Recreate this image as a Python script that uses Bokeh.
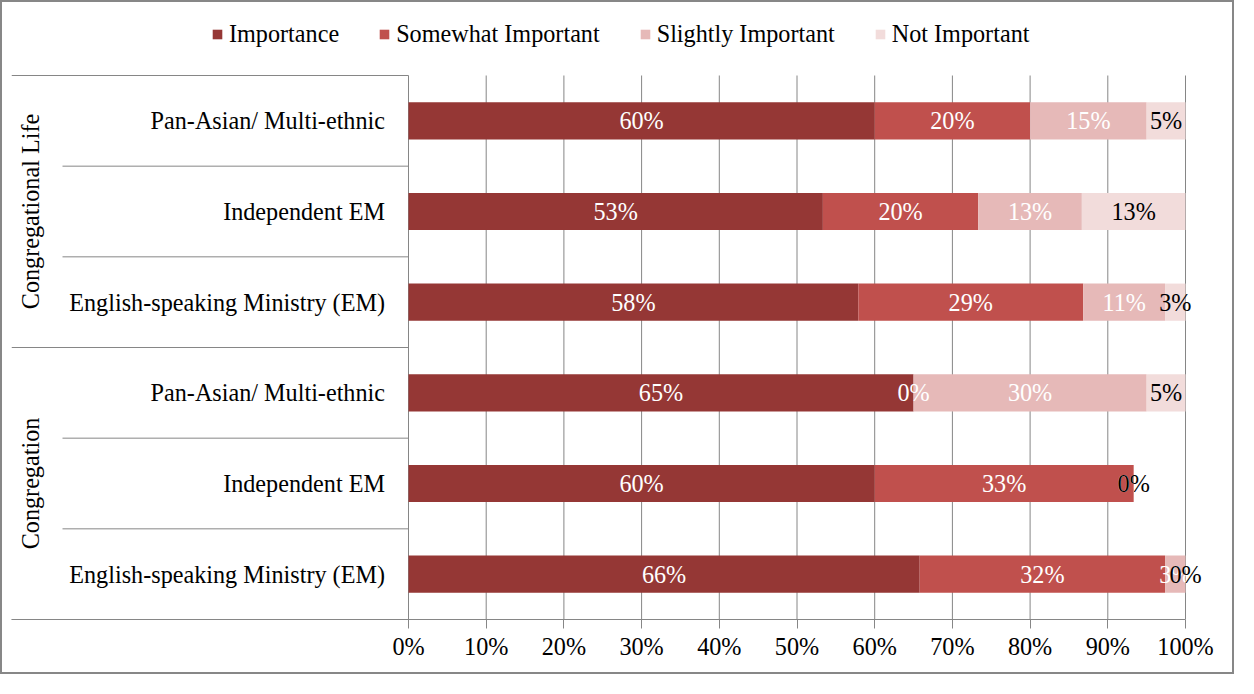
from bokeh.plotting import figure
from bokeh.models import (ColumnDataSource, Range1d, FixedTicker, NumeralTickFormatter,
                          Legend, LegendItem)
from bokeh.core.properties import value
from bokeh.embed import file_html
from bokeh.resources import INLINE

# ---------------- data ----------------
groups = ["Congregational Life", "Congregation"]
categories = ["Pan-Asian/ Multi-ethnic", "Independent EM", "English-speaking Ministry (EM)",
              "Pan-Asian/ Multi-ethnic", "Independent EM", "English-speaking Ministry (EM)"]
series = ["Importance", "Somewhat Important", "Slightly Important", "Not Important"]
importance = [0.6000, 0.5333, 0.5789, 0.6500, 0.6000, 0.6579]
somewhat = [0.2000, 0.2000, 0.2895, 0.0000, 0.3333, 0.3158]
slightly = [0.1500, 0.1333, 0.1053, 0.3000, 0.0000, 0.0263]
not_important = [0.0500, 0.1333, 0.0263, 0.0500, 0.0000, 0.0000]
x_ticks = [0.0, 0.1, 0.2, 0.3, 0.4, 0.5, 0.6, 0.7, 0.8, 0.9, 1.0]

# ---------------- style ----------------
colors = ["#953735", "#C0504D", "#E6B9B8", "#F2DCDB"]
label_colors = ["white", "white", "white", "black"]
GRAY = "#868686"
FONT = "Liberation Serif"
FS = "24.2px"

W, H = 1234, 674          # inner size; a 2px CSS border is added around it
FRAME_LEFT, FRAME_RIGHT = 9, 1230
ZERO_X, PX = 406.0, 777.0  # pixel of 0 % and pixels per 100 %
ROWS_TOP, FRAME_BOTTOM = 73, 617
ROW = (FRAME_BOTTOM - ROWS_TOP) / 6.0

X_LEFT = (FRAME_LEFT - ZERO_X) / PX
X_END = (FRAME_RIGHT - ZERO_X) / PX
X_SUB = (60.0 - ZERO_X) / PX      # start of the inner separators
X_CAT = (382.5 - ZERO_X) / PX     # right edge of category labels
X_GRP = (27.6 - ZERO_X) / PX      # centre of the rotated group labels

n = len(categories)
ys = [n - 0.5 - i for i in range(n)]
vals = [importance, somewhat, slightly, not_important]
keys = ["importance", "somewhat", "slightly", "not_important"]

src = ColumnDataSource(dict(y=ys, importance=importance, somewhat=somewhat,
                            slightly=slightly, not_important=not_important))

p = figure(width=W, height=H, output_backend="svg", toolbar_location=None,
           x_range=Range1d(X_LEFT, X_END), y_range=Range1d(0, FRAME_BOTTOM / ROW),
           y_axis_location=None, min_border_left=FRAME_LEFT,
           min_border_right=W - FRAME_RIGHT, min_border_top=0,
           min_border_bottom=H - FRAME_BOTTOM)
p.outline_line_color = None
p.background_fill_color = "white"
p.border_fill_color = "white"
p.styles = {"border": "2px solid #878787"}

# gridlines (only over the rows)
p.segment(x0=x_ticks, y0=[0] * len(x_ticks), x1=x_ticks, y1=[n] * len(x_ticks),
          line_color=GRAY, line_width=1)

rends = p.hbar_stack(keys, y="y", height=0.41, fill_color=colors, line_color=None,
                     source=src)

# data labels
lx, ly, lt, lc = [], [], [], []
for j, v in enumerate(vals):
    for i in range(n):
        left = sum(vals[k][i] for k in range(j))
        lx.append(left + v[i] / 2)
        ly.append(ys[i])
        lt.append(f"{int(v[i] * 100 + 0.5)}%")
        lc.append(label_colors[j])
p.text(x="x", y="y", text="t", text_color="c",
       source=ColumnDataSource(dict(x=lx, y=ly, t=lt, c=lc)),
       text_font=value(FONT), text_font_size=value(FS),
       text_align="center", text_baseline="middle")

# category labels
p.text(x=[X_CAT] * n, y=ys, text=categories, text_font=value(FONT),
       text_font_size=value(FS), text_align="right", text_baseline="middle",
       text_color="black")

# group labels (rotated)
per = n // len(groups)
gy = [n - per * g - per / 2 for g in range(len(groups))]
p.text(x=[X_GRP] * len(groups), y=gy, text=groups, angle=1.5708,
       text_font=value(FONT), text_font_size=value(FS), text_align="center",
       text_baseline="middle", text_color="black")

# separators in category area
sx0, sy = [], []
for b in range(0, n + 1):
    sx0.append(X_LEFT if b % per == 0 else X_SUB)
    sy.append(b)
p.segment(x0=sx0, y0=sy, x1=[0] * len(sy), y1=sy, line_color=GRAY, line_width=1)

# axis
p.xgrid.grid_line_color = None
p.ygrid.grid_line_color = None
ax = p.xaxis[0]
ax.ticker = FixedTicker(ticks=x_ticks)
ax.formatter = NumeralTickFormatter(format="0%")
ax.bounds = (X_LEFT, 1.0)
ax.axis_line_color = GRAY
ax.major_tick_line_color = GRAY
ax.major_tick_out = 9
ax.major_tick_in = 0
ax.minor_tick_line_color = None
ax.major_label_text_font = FONT
ax.major_label_text_font_size = FS
ax.major_label_text_color = "black"
ax.major_label_standoff = 4

# legend (inside the top part of the frame)
legend = Legend(items=[LegendItem(label=s, renderers=[r]) for s, r in zip(series, rends)],
                orientation="horizontal", location=(200, 571),
                label_text_font=FONT, label_text_font_size=FS, label_text_color="black",
                glyph_width=12, glyph_height=12, label_standoff=6, spacing=39,
                padding=0, margin=0, border_line_color=None,
                background_fill_alpha=0)
p.add_layout(legend, "center")

open("out.html", "w").write(file_html(p, INLINE))
